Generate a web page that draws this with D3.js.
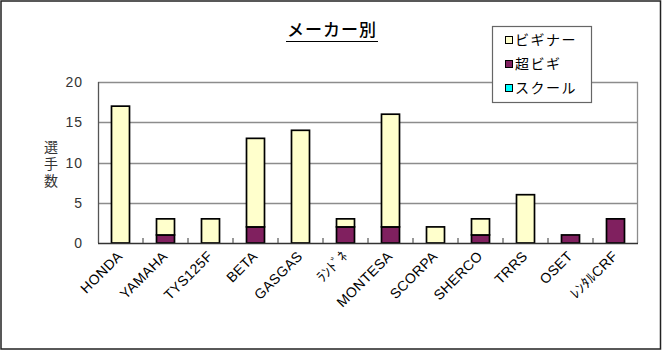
<!doctype html>
<html>
  <head>
    <meta charset="utf-8">
    <script src="https://d3js.org/d3.v7.min.js"></script>
    <style>
      body { margin: 0; background: #fff; }
      text { font-family: "Liberation Sans", Arial, "Noto Sans CJK JP", sans-serif; }
      .jp { font-family: "Noto Sans CJK JP", sans-serif; }
    </style>
  </head>
  <body>
    <div id="chart"></div>
    <script>
      // chart data
      var makers = ["HONDA", "YAMAHA", "TYS125F", "BETA", "GASGAS", "ﾗﾝﾄﾞﾈ", "MONTESA", "SCORPA", "SHERCO", "TRRS", "OSET", "ﾚﾝﾀﾙCRF"];
      var beginner = [17, 2, 3, 11, 14, 1, 14, 2, 2, 6, 0, 0];
      var superBeginner = [0, 1, 0, 2, 0, 2, 2, 0, 1, 0, 1, 3];
      var school = [0, 0, 0, 0, 0, 0, 0, 0, 0, 0, 0, 0];
      var seriesNames = ["ビギナー", "超ビギ", "スクール"];
      var yTicks = [0, 5, 10, 15, 20];

      var width = 662, height = 351;
      var colors = { "ビギナー": "#ffffcc", "超ビギ": "#80205f", "スクール": "#00ffff" };

      var svg = d3.select("#chart").append("svg")
        .attr("width", width)
        .attr("height", height);

      // outer frame
      svg.append("rect")
        .attr("x", 1).attr("y", 1)
        .attr("width", width - 2.5).attr("height", height - 3)
        .attr("fill", "#fff").attr("stroke", "#222").attr("stroke-width", 1.5);

      var x = d3.scaleBand().domain(makers).range([98, 638]);
      var y = d3.scaleLinear().domain([0, 20]).range([243, 82]);

      // rows for stacking: super beginner at the bottom
      var rows = makers.map(function(m, i) {
        return { maker: m, "ビギナー": beginner[i], "超ビギ": superBeginner[i], "スクール": school[i] };
      });
      var stack = d3.stack().keys(["超ビギ", "ビギナー", "スクール"]);
      var layers = stack(rows);

      // grid lines
      svg.selectAll(".grid").data(yTicks.slice(1))
        .enter().append("line")
        .attr("x1", 98).attr("x2", 638)
        .attr("y1", function(d) { return Math.round(y(d)) + 0.5; })
        .attr("y2", function(d) { return Math.round(y(d)) + 0.5; })
        .attr("stroke", "#8c8c8c").attr("stroke-width", 1.3);

      // plot frame right side
      svg.append("line")
        .attr("x1", 637.5).attr("x2", 637.5).attr("y1", y(20)).attr("y2", y(0))
        .attr("stroke", "#8c8c8c").attr("stroke-width", 1.3);

      // bars
      var barW = 18;
      layers.forEach(function(layer) {
        svg.append("g").selectAll("rect")
          .data(layer.filter(function(d) { return d[1] - d[0] > 0; }))
          .enter().append("rect")
          .attr("x", function(d) { return x(d.data.maker) + (x.bandwidth() - barW) / 2; })
          .attr("y", function(d) { return y(d[1]); })
          .attr("width", barW)
          .attr("height", function(d) { return y(d[0]) - y(d[1]); })
          .attr("fill", colors[layer.key])
          .attr("stroke", "#000").attr("stroke-width", 1.7);
      });

      // axes
      svg.append("line")
        .attr("x1", 98.5).attr("x2", 98.5).attr("y1", y(20)).attr("y2", y(0))
        .attr("stroke", "#555").attr("stroke-width", 1.3);
      svg.append("line")
        .attr("x1", 98).attr("x2", 638).attr("y1", y(0) + 0.5).attr("y2", y(0) + 0.5)
        .attr("stroke", "#333").attr("stroke-width", 1.5);

      // category tick marks pointing up
      var bounds = makers.map(function(m) { return x(m); }).slice(1);
      svg.selectAll(".tick").data(bounds)
        .enter().append("line")
        .attr("x1", function(d) { return d; }).attr("x2", function(d) { return d; })
        .attr("y1", y(0)).attr("y2", y(0) - 5)
        .attr("stroke", "#555").attr("stroke-width", 1.2);

      // y tick labels
      svg.selectAll(".ylab").data(yTicks)
        .enter().append("text")
        .attr("x", 83).attr("y", function(d) { return y(d) + 5; })
        .attr("text-anchor", "end")
        .attr("font-size", "14px")
        .attr("letter-spacing", "1px")
        .attr("fill", "#333")
        .text(function(d) { return d; });

      // y title, vertical
      svg.append("text")
        .attr("class", "jp")
        .attr("x", 51).attr("y", 140)
        .attr("font-size", "14px")
        .attr("letter-spacing", "3px")
        .attr("fill", "#333")
        .style("writing-mode", "vertical-rl")
        .text("選手数");

      // x labels rotated
      svg.selectAll(".xlab").data(makers)
        .enter().append("text")
        .attr("text-anchor", "end")
        .attr("font-size", "14px")
        .attr("letter-spacing", "0.4px")
        .attr("fill", "#000")
        .attr("transform", function(d) {
          return "translate(" + (x(d) + x.bandwidth() / 2 + 3) + "," + 257 + ") rotate(-45)";
        })
        .text(function(d) { return d; });

      // title
      svg.append("text")
        .attr("class", "jp")
        .attr("x", 332).attr("y", 36)
        .attr("text-anchor", "middle")
        .attr("font-size", "17px")
        .attr("font-weight", 500)
        .attr("letter-spacing", "1px")
        .attr("fill", "#000")
        .text("メーカー別");
      svg.append("line")
        .attr("x1", 286).attr("x2", 378).attr("y1", 41.5).attr("y2", 41.5)
        .attr("stroke", "#000").attr("stroke-width", 1.2);

      // legend
      var legend = svg.append("g").attr("transform", "translate(492,26)");
      legend.append("rect")
        .attr("x", 0.5).attr("y", 0.5).attr("width", 99).attr("height", 76)
        .attr("fill", "#fff").attr("stroke", "#666").attr("stroke-width", 1.2);
      var items = legend.selectAll(".item").data(seriesNames)
        .enter().append("g")
        .attr("transform", function(d, i) { return "translate(0," + (14 + i * 24) + ")"; });
      items.append("rect")
        .attr("x", 13.5).attr("y", -3.5).attr("width", 7).attr("height", 7)
        .attr("fill", function(d) { return colors[d]; })
        .attr("stroke", "#000").attr("stroke-width", 1);
      items.append("text")
        .attr("class", "jp")
        .attr("x", 23).attr("y", 5)
        .attr("font-size", "14px")
        .attr("letter-spacing", "1.5px")
        .attr("fill", "#000")
        .text(function(d) { return d; });
    </script>
  </body>
</html>
